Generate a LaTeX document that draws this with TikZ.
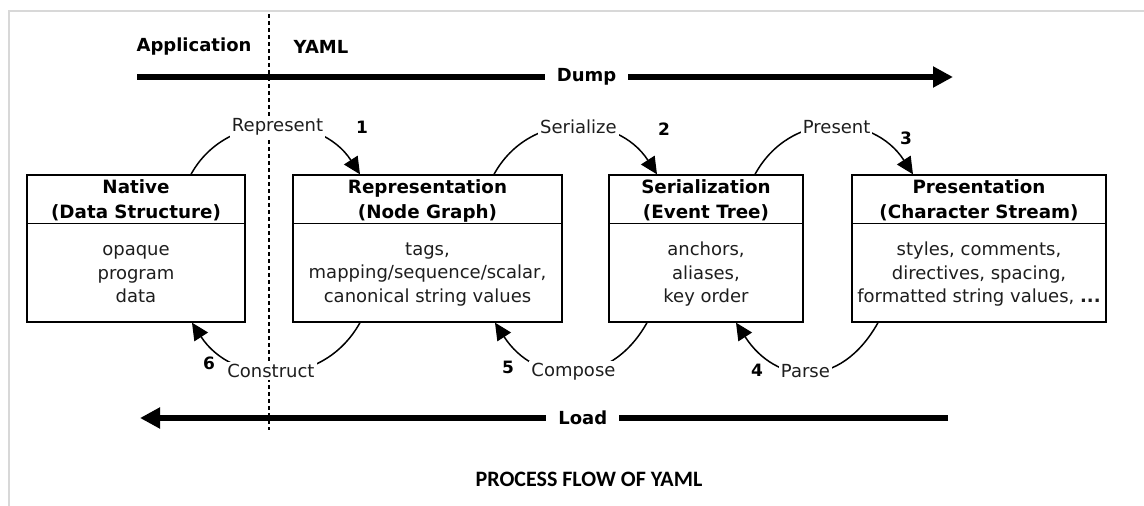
\documentclass[tikz,border=0pt]{standalone}
\usepackage{fontspec}
\setmainfont{DejaVu Sans}
\newfontfamily\capfont{Carlito}
\usetikzlibrary{arrows.meta}
\definecolor{frame}{RGB}{216,216,216}
\definecolor{txt}{RGB}{30,30,30}
\begin{document}
\begin{tikzpicture}[x=1pt,y=-1pt,
  box/.style={draw, line width=1.3pt, minimum height=147pt, inner sep=0pt},
  head/.style={font=\fontsize{18.3}{25}\selectfont\bfseries, align=center, inner sep=0pt},
  body/.style={font=\fontsize{18}{23.5}\selectfont, text=txt, align=center, inner sep=0pt},
  big/.style={line width=6pt, -{Triangle[length=20pt,width=20pt]}},
  bigl/.style={fill=white, font=\fontsize{18}{20}\selectfont\bfseries, inner xsep=12pt, inner ysep=2pt},
  curv/.style={line width=1.5pt, -{Triangle[length=17pt,width=16pt]}},
  arcl/.style={fill=white, font=\fontsize{18}{20}\selectfont, text=txt, inner sep=2pt},
  num/.style={font=\fontsize{17}{20}\selectfont\bfseries, inner sep=0pt},
  toplbl/.style={font=\fontsize{18}{20}\selectfont\bfseries, inner sep=0pt},
]
\useasboundingbox (0,0) rectangle (1144,506);
\fill[white] (0,0) rectangle (1144,506);
\draw[line width=2pt, frame] (9,506) -- (9,10.5) -- (1144,10.5);

% divider between application and YAML
\draw[line width=1.2pt, dash pattern=on 4pt off 3pt] (269,14) -- (269,430);

\node[toplbl] (app) at (194,47) {Application};
\node[toplbl] (yaml) at (321,47) {YAML};

% boxes
\node[box, minimum width=218pt] (nat) at (136,248.5) {};
\node[box, minimum width=269pt] (rep) at (427.5,248.5) {};
\node[box, minimum width=194pt] (ser) at (706,248.5) {};
\node[box, minimum width=254pt] (pre) at (979,248.5) {};
\foreach \b in {nat,rep,ser,pre}
  \draw[line width=1.3pt] ([yshift=-49pt]\b.north west) -- ([yshift=-49pt]\b.north east);

\node[head] (natH) at (136,200.5) {Native\\(Data Structure)};
\node[head] (repH) at (427.5,200.5) {Representation\\(Node Graph)};
\node[head] (serH) at (706,200.5) {Serialization\\(Event Tree)};
\node[head] (preH) at (979,200.5) {Presentation\\(Character Stream)};

\node[body] (natB) at (136,274.5) {opaque\\program\\data};
\node[body] (repB) at (427.5,274.5) {tags,\\mapping/sequence/scalar,\\canonical string values};
\node[body] (serB) at (706,274.5) {anchors,\\aliases,\\key order};
\node[body] (preB) at (979,274.5) {styles, comments,\\directives, spacing,\\formatted string values, \textbf{...}};

% big arrows
\coordinate (dS) at (137,77);
\coordinate (dE) at (953,77);
\draw[big] (dS) -- node[bigl, pos=0.551] {Dump} (dE);
\coordinate (lS) at (948,418);
\coordinate (lE) at (140,418);
\draw[big] (lS) -- node[bigl, pos=0.452] {Load} (lE);

% dump curves
\draw[curv] ([xshift=55pt]nat.north) .. controls +(35,-64) and +(-40,-62) .. node[arcl, pos=0.52] {Represent} ([xshift=-67.5pt]rep.north);
\draw[curv] ([xshift=66.5pt]rep.north) .. controls +(35,-64) and +(-40,-62) .. node[arcl, pos=0.525] {Serialize} ([xshift=-49pt]ser.north);
\draw[curv] ([xshift=49pt]ser.north) .. controls +(35,-64) and +(-40,-62) .. node[arcl, pos=0.525] {Present} ([xshift=-66pt]pre.north);

% load curves
\draw[curv] ([xshift=-101pt]pre.south) .. controls +(-38,68) and +(40,62) .. node[arcl, pos=0.515] {Parse} ([xshift=30pt]ser.south);
\draw[curv] ([xshift=-59pt]ser.south) .. controls +(-38,68) and +(40,62) .. node[arcl, pos=0.49] {Compose} ([xshift=67.5pt]rep.south);
\draw[curv] ([xshift=-67.5pt]rep.south) .. controls +(-38,68) and +(40,62) .. node[arcl, pos=0.53] {Construct} ([xshift=56pt]nat.south);

% step numbers
\node[num] (n1) at (362,127) {1};
\node[num] (n2) at (664,129) {2};
\node[num] (n3) at (906,138) {3};
\node[num] (n4) at (757,370) {4};
\node[num] (n5) at (508,367) {5};
\node[num] (n6) at (209,363) {6};

\node[font=\capfont\bfseries\fontsize{22}{24}\selectfont, inner sep=0pt] (cap) at (589,479.5) {PROCESS FLOW OF YAML};
\end{tikzpicture}
\end{document}
